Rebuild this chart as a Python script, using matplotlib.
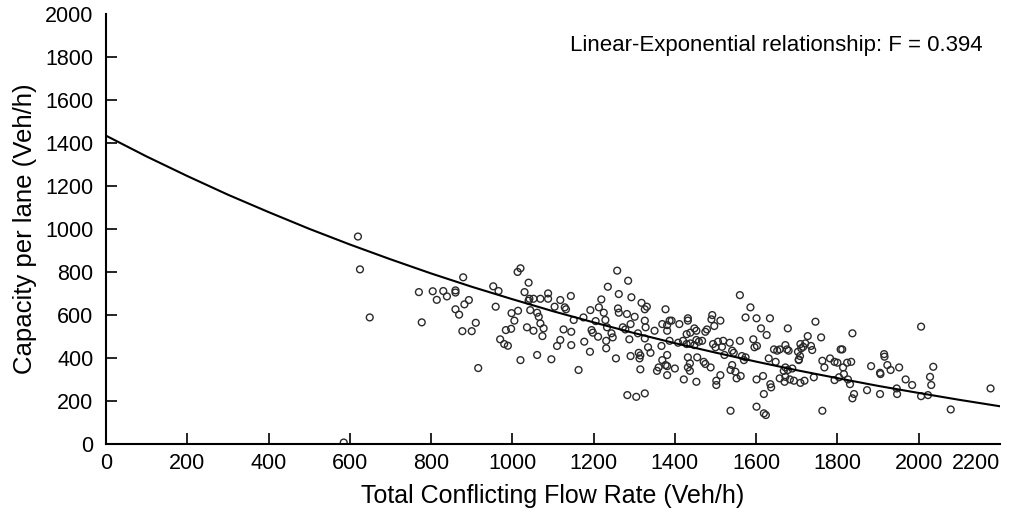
import matplotlib
matplotlib.use("Agg")
import matplotlib.pyplot as plt

plt.rcParams['font.family'] = ['Liberation Sans', 'DejaVu Sans']

# observed points: total conflicting flow (veh/h) vs capacity per lane (veh/h)
flow = [585, 620, 625, 649, 770, 777, 804, 814, 830, 839, 860, 860, 860, 869, 879, 882, 893, 877, 900,
        910, 916, 953, 966, 959, 970, 984, 989, 980, 997, 998, 1005, 1013, 1020, 1014, 1020,
        1040, 1030, 1042, 1040, 1052, 1069, 1088, 1088, 1044, 1061, 1065, 1069, 1077, 1036, 1052, 1074,
        1061, 1096, 1104, 1118, 1129, 1132, 1144, 1126, 1145, 1118, 1110, 1145, 1151, 1163, 1177, 1175,
        1191, 1192, 1205, 1195, 1198, 1213, 1219, 1225, 1211, 1229, 1233, 1231, 1231, 1244, 1247, 1255,
        1235, 1258, 1262, 1260, 1262, 1272, 1278, 1282, 1285, 1291, 1288, 1293, 1301, 1291, 1283, 1305,
        1326, 1311, 1315, 1313, 1315, 1309, 1318, 1326, 1331, 1326, 1328, 1326, 1334, 1340, 1350, 1367,
        1377, 1369, 1381, 1387, 1392, 1381, 1387, 1369, 1377, 1381, 1360, 1356, 1381, 1400, 1381, 1411,
        1408, 1422,
        1560, 1586, 1574, 1601, 1634, 1612, 1626, 1678, 1746, 1760, 1727, 1432, 1432, 1448, 1453, 1429,
        1438, 1479, 1475, 1492, 1490, 1497, 1512, 1420, 1429, 1438, 1448, 1459, 1467, 1453, 1494, 1500,
        1506, 1519, 1535, 1516, 1522, 1541, 1545, 1560, 1593, 1596, 1602, 1565, 1574, 1570, 1432, 1437,
        1432, 1437, 1455, 1471, 1475, 1488, 1453, 1502, 1502, 1512, 1541, 1549, 1537, 1552, 1562, 1537,
        1601, 1619, 1624, 1619, 1637, 1635, 1601, 1617, 1631, 1648, 1644, 1652, 1658, 1672, 1676, 1680,
        1672, 1678, 1668, 1658, 1672, 1683, 1670, 1693, 1689, 1705, 1709, 1711, 1716, 1703, 1708, 1705,
        1721, 1735, 1738, 1709, 1719, 1742, 1763, 1768, 1782, 1793, 1800, 1808, 1812, 1763, 1793, 1804,
        1814,
        1837, 1824, 1834, 1816, 1826, 1831, 1841, 1837, 1873, 1905, 1883, 1915, 1916, 1923, 1931, 1905,
        1906, 1952, 1968, 1946, 1947, 1984, 2006, 2006, 2023, 2036, 2028, 2031, 2079, 2177]
capacity = [5, 965, 812, 588, 706, 565, 710, 670, 711, 686, 714, 704, 626, 601, 775, 649, 669, 524, 524,
            563, 352, 733, 711, 638, 486, 529, 456, 464, 535, 608, 573, 800, 817, 619, 389,
            750, 706, 675, 666, 675, 675, 700, 675, 622, 610, 591, 560, 537, 542, 526, 501,
            413, 393, 638, 669, 635, 626, 688, 532, 521, 483, 455, 459, 576, 343, 475, 588,
            428, 622, 571, 529, 517, 635, 672, 610, 498, 576, 542, 479, 444, 514, 495, 397,
            731, 806, 697, 630, 610, 542, 532, 604, 759, 557, 486, 682, 591, 408, 226, 218,
            234, 423, 411, 397, 346, 514, 656, 626, 638, 573, 542, 490, 449, 423, 526, 455,
            626, 557, 552, 573, 573, 526, 479, 389, 366, 361, 355, 339, 319, 350, 413, 557,
            470, 299,
            692, 635, 588, 584, 584, 537, 506, 537, 568, 495, 501, 584, 573, 537, 526, 510,
            517, 532, 521, 599, 579, 548, 573, 479, 464, 467, 459, 475, 479, 483, 464, 449,
            475, 479, 470, 451, 413, 433, 423, 479, 486, 449, 455, 408, 402, 389, 402, 374,
            355, 339, 402, 381, 371, 355, 288, 293, 273, 319, 366, 335, 343, 304, 315, 153,
            172, 141, 133, 231, 262, 277, 299, 315, 397, 381, 439, 433, 439, 459, 439, 433,
            355, 343, 339, 304, 311, 299, 288, 293, 350, 389, 464, 444, 451, 428, 408, 392,
            467, 455, 436, 283, 293, 309, 386, 355, 397, 381, 377, 439, 439, 153, 296, 309,
            355,
            514, 377, 381, 324, 299, 277, 231, 211, 249, 231, 361, 417, 405, 366, 343, 330,
            324, 355, 299, 257, 231, 273, 545, 221, 226, 358, 311, 273, 159, 257]

# fitted linear-exponential curve, every 100 veh/h
curve_flow = list(range(0, 2201, 100))
curve_cap = [1435, 1338, 1247, 1160, 1079, 1001, 928, 859, 793, 731, 673, 617, 565,
             515, 468, 424, 382, 342, 305, 269, 236, 204, 174]

x_ticks = list(range(0, 2201, 200))
y_ticks = list(range(0, 2001, 200))

fig = plt.figure(figsize=(10.1, 5.17), dpi=100)
ax = fig.add_axes([0.105, 0.142, 0.885, 0.830])

ax.scatter(flow, capacity, s=24, facecolors='none', edgecolors='#2a2a2a', linewidths=1.0, zorder=2)
ax.plot(curve_flow, curve_cap, color='black', lw=1.5, zorder=3)

ax.set_xlim(0, 2200)
ax.set_ylim(0, 2000)
ax.set_xticks(x_ticks)
ax.set_yticks(y_ticks)
ax.tick_params(direction='in', length=8, width=1.2, labelsize=15.5)
ax.tick_params(axis='x', pad=7)
ax.tick_params(axis='y', pad=9)
for t in [ax.xaxis.get_major_ticks()[0], ax.xaxis.get_major_ticks()[-1],
          ax.yaxis.get_major_ticks()[0], ax.yaxis.get_major_ticks()[-1]]:
    t.tick1line.set_visible(False)
ax.get_xticklabels()[-1].set_horizontalalignment('right')

for side in ['top', 'right']:
    ax.spines[side].set_visible(False)
for side in ['left', 'bottom']:
    ax.spines[side].set_linewidth(1.5)

ax.set_xlabel('Total Conflicting Flow Rate (Veh/h)', fontsize=18, labelpad=7)
ax.set_ylabel('Capacity per lane (Veh/h)', fontsize=18.5, labelpad=6)

fig.text(570 / 1010, 1 - 45 / 517, 'Linear-Exponential relationship: F = 0.394',
         fontsize=16, va='center', ha='left')

fig.savefig('out.png', dpi=100)
